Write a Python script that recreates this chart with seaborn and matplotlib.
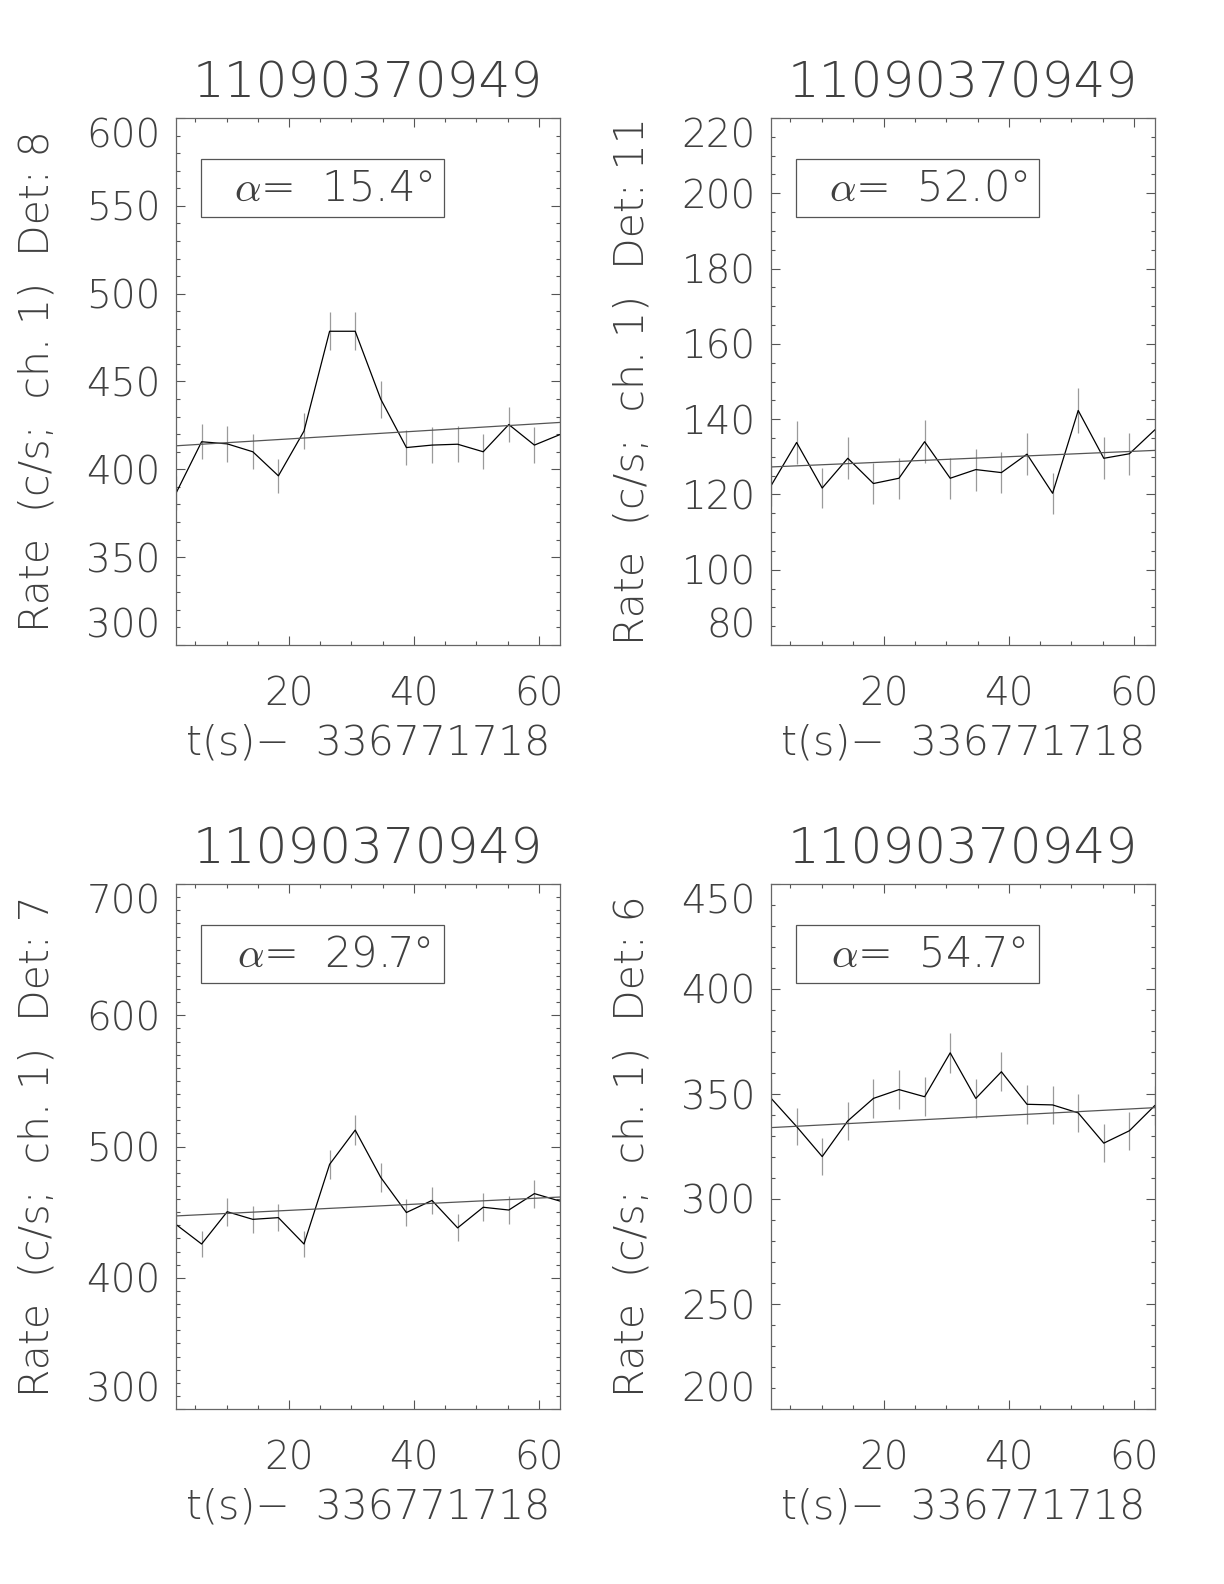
import numpy as np
import matplotlib
matplotlib.use('Agg')
import matplotlib.pyplot as plt
import seaborn as sns
from matplotlib.patches import Rectangle
from matplotlib.ticker import MultipleLocator

# %%
# values
t = [1.9, 6.0, 10.1, 14.2, 18.3, 22.4, 26.5, 30.6, 34.7, 38.8, 42.9, 47.0, 51.1, 55.2, 59.3, 63.4]
trigger = '11090370949'
t_ref = '336771718'

dets = [8, 11, 7, 6]
alphas = [15.4, 52.0, 29.7, 54.7]

rate_d8 = [386.4, 415.7, 414.5, 410.0, 396.3, 421.8, 478.6, 478.6, 439.9, 412.4, 413.8, 414.3, 410.0, 425.5, 413.8, 419.8]
err_d8 = [9.7, 10.1, 10.1, 10.0, 9.8, 10.1, 10.8, 10.8, 10.4, 10.0, 10.1, 10.1, 10.0, 10.2, 10.1, 10.1]
fit_d8 = [413.4, 426.7]

rate_d11 = [122.3, 133.8, 121.7, 129.6, 122.9, 124.3, 134.0, 124.3, 126.6, 125.8, 130.7, 120.3, 142.3, 129.6, 130.8, 137.2]
err_d11 = [5.5, 5.7, 5.4, 5.6, 5.4, 5.5, 5.7, 5.5, 5.6, 5.5, 5.6, 5.4, 5.9, 5.6, 5.6, 5.8]
fit_d11 = [127.3, 131.7]

rate_d7 = [440.6, 425.7, 450.3, 444.5, 445.8, 425.7, 486.4, 512.5, 476.4, 449.7, 458.9, 438.0, 453.7, 451.6, 464.1, 458.4]
err_d7 = [10.4, 10.2, 10.5, 10.4, 10.4, 10.2, 10.9, 11.2, 10.8, 10.5, 10.6, 10.3, 10.5, 10.5, 10.6, 10.6]
fit_d7 = [447.1, 461.5]

rate_d6 = [348.0, 334.5, 320.2, 337.2, 347.9, 352.1, 348.7, 369.6, 347.9, 360.6, 345.1, 344.8, 341.0, 326.6, 332.5, 344.6]
err_d6 = [9.2, 9.0, 8.9, 9.1, 9.2, 9.3, 9.2, 9.5, 9.2, 9.4, 9.2, 9.2, 9.1, 8.9, 9.0, 9.2]
fit_d6 = [334.0, 343.5]

ylims = [(300, 600), (80, 220), (300, 700), (200, 450)]
ymajor = [50, 20, 100, 50]
yminor = [10, 5, 10, 10]

# %%
sns.set_style('ticks')
plt.rcParams['font.family'] = ['DejaVu Sans']
plt.rcParams['font.weight'] = 200
plt.rcParams['axes.titleweight'] = 200
plt.rcParams['axes.labelweight'] = 200
plt.rcParams['mathtext.fontset'] = 'cm'

txt = '#404040'
fig = plt.figure(figsize=(12.24, 15.84), dpi=100)
W, H = 1224, 1584
# left, top, right, bottom in pixels
boxes = [(176, 118, 560, 645), (771, 118, 1155, 645),
         (176, 884, 560, 1409), (771, 884, 1155, 1409)]
rates = [rate_d8, rate_d11, rate_d7, rate_d6]
errs = [err_d8, err_d11, err_d7, err_d6]
fits = [fit_d8, fit_d11, fit_d7, fit_d6]

for i in range(4):
    l, tp, r, b = boxes[i]
    ax = fig.add_axes([l / W, 1 - b / H, (r - l) / W, (b - tp) / H])
    rate = np.array(rates[i])
    err = np.array(errs[i])

    ax.vlines(t, rate - err, rate + err, color='#9a9a9a', lw=0.9)
    sns.lineplot(x=t, y=rate, ax=ax, color='black', lw=0.9, estimator=None)
    sns.lineplot(x=[t[0], t[-1]], y=fits[i], ax=ax, color='#555555', lw=0.9, estimator=None)

    ax.set_xlim(t[0], t[-1])
    lo, hi = ylims[i]
    ax.set_ylim(lo, hi)
    ax.set_xticks([20, 40, 60])
    ax.xaxis.set_minor_locator(MultipleLocator(5))
    ax.set_yticks(np.arange(lo, hi + 1, ymajor[i]))
    ax.yaxis.set_minor_locator(MultipleLocator(yminor[i]))
    ax.tick_params(which='both', direction='in', top=True, right=True,
                   colors='#555555', labelcolor=txt, labelsize=28)
    ax.tick_params(which='major', length=6.5, width=0.8)
    ax.tick_params(which='minor', length=3, width=0.8)
    ax.tick_params(axis='x', pad=22)
    ax.tick_params(axis='y', pad=11)
    labs = ax.get_yticklabels()
    labs[0].set_va('bottom')
    labs[-1].set_va('top')
    for s in ax.spines.values():
        s.set_color('#666666')
        s.set_linewidth(0.9)

    ax.set_title(trigger, fontsize=36, color=txt, pad=15)
    ax.set_xlabel('t(s)\u2212  ' + t_ref, fontsize=29.5, color=txt, labelpad=7)
    ax.set_ylabel('Rate  (c/s;  ch. 1)  Det: %d' % dets[i], fontsize=29.5, color=txt)
    ax.yaxis.set_label_coords(-0.31, 0.5)

    ax.add_patch(Rectangle((0.065, 0.812), 0.633, 0.11, transform=ax.transAxes,
                           fill=False, edgecolor='#555555', lw=0.9))
    ax.text(0.41, 0.867, r'$\alpha$=  %.1f°' % alphas[i], transform=ax.transAxes,
            ha='center', va='center', fontsize=30, color=txt)

fig.savefig('out.png', dpi=100, facecolor='white')
